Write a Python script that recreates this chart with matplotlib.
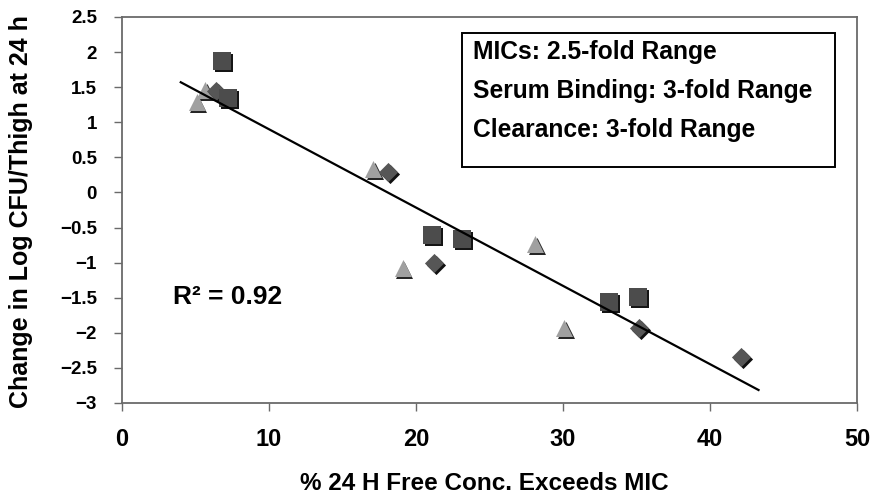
import numpy as np
import matplotlib
matplotlib.use("Agg")
import matplotlib.pyplot as plt
from matplotlib.patches import Rectangle
import matplotlib.transforms as mtransforms

# % of 24 h that free drug concentration stays above MIC vs. change in log CFU
tri_x = [5.1, 5.65, 17.1, 19.1, 28.1, 30.1]
tri_y = [1.29, 1.46, 0.34, -1.07, -0.73, -1.93]

dia_x = [6.4, 18.1, 21.2, 35.2, 42.1]
dia_y = [1.44, 0.29, -1.00, -1.93, -2.34]

sq_x = [6.8, 7.2, 21.1, 23.1, 33.1, 35.1]
sq_y = [1.87, 1.35, -0.61, -0.66, -1.56, -1.49]

fit_range = [4.0, 43.3]
r_squared = 0.92

y_ticks = np.arange(-3, 2.51, 0.5)
x_ticks = np.arange(0, 51, 10)

box_lines = ["MICs: 2.5-fold Range",
             "Serum Binding: 3-fold Range",
             "Clearance: 3-fold Range"]

plt.rcParams['font.family'] = ['Liberation Sans', 'DejaVu Sans']
plt.rcParams['font.weight'] = 'bold'

fig = plt.figure(figsize=(8.73, 5.04), dpi=100)
ax = fig.add_axes([0.1397, 0.2004, 0.8420, 0.7659])


def shaded(xs, ys, marker, size, face, shadow, dx, dy, z):
    # draw a dark offset copy first to give the markers a raised look
    off = mtransforms.offset_copy(ax.transData, fig=fig, x=dx, y=dy, units='dots')
    ax.scatter(xs, ys, marker=marker, s=size, c=shadow, linewidths=0,
               transform=off, zorder=z)
    ax.scatter(xs, ys, marker=marker, s=size, c=face, linewidths=0, zorder=z + 0.1)


shaded(tri_x, tri_y, '^', 150, '#a0a0a0', '#262626', 1.5, -2.5, 3)
shaded(dia_x, dia_y, 'D', 95, '#565656', '#111111', 2, -2, 3.5)
shaded(sq_x, sq_y, 's', 160, '#4c4c4c', '#151515', 2, -2, 4)

# linear trend over all points
all_x = np.array(tri_x + dia_x + sq_x)
all_y = np.array(tri_y + dia_y + sq_y)
slope, icpt = np.polyfit(all_x, all_y, 1)
lx = np.array(fit_range)
ax.plot(lx, slope * lx + icpt, color='black', lw=1.6, zorder=5)

ax.set_xlim(0, 50)
ax.set_ylim(-3, 2.5)
ax.set_xticks(x_ticks)
ax.set_yticks(y_ticks)
ax.set_yticklabels([f"{v:g}".replace('-', '\u2212') for v in y_ticks])

for sp in ax.spines.values():
    sp.set_color('#6a6a6a')
    sp.set_linewidth(1.3)
ax.tick_params(axis='both', direction='out', length=6, width=1, color='#6a6a6a')
ax.tick_params(axis='y', labelsize=13.5, pad=12)
ax.tick_params(axis='x', labelsize=17, pad=12)

fig.text(21 / 873, 1 - 212 / 504, "Change in Log CFU/Thigh at 24 h",
         rotation=90, fontsize=18, fontweight='bold', ha='center', va='center')
fig.text(484 / 873, 1 - 483 / 504, "% 24 H Free Conc. Exceeds MIC",
         fontsize=17.5, fontweight='bold', ha='center', va='center')

ax.add_patch(Rectangle((0.4626, 0.6114), 0.5074, 0.3471, transform=ax.transAxes,
                       fill=False, edgecolor='black', lw=1.4, zorder=6))
for i, txt in enumerate(box_lines):
    ax.text(0.4776, 0.9093 - i * 0.101, txt, transform=ax.transAxes,
            fontsize=17.7, va='center', ha='left', zorder=7)

ax.text(0.0694, 0.2746, f"R\u00b2 = {r_squared:.2f}", transform=ax.transAxes,
        fontsize=19, va='center', ha='left')

fig.savefig("out.png", dpi=100)
